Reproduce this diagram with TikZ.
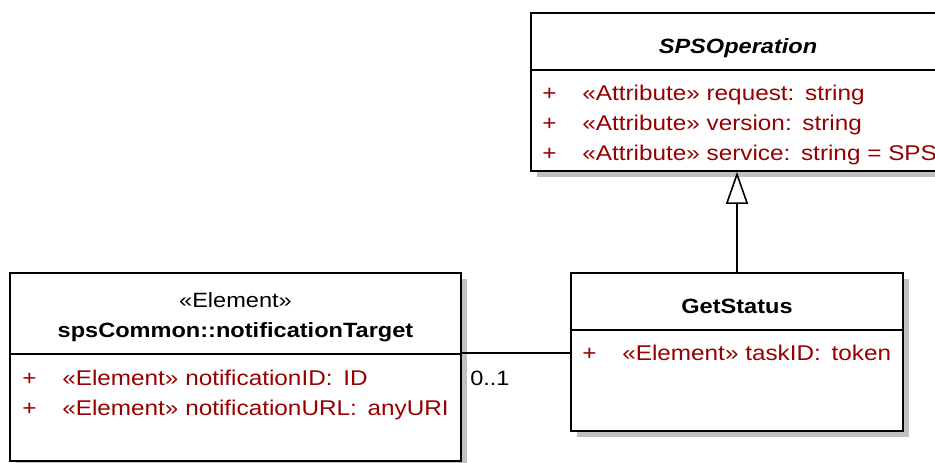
\documentclass[tikz,border=0pt]{standalone}
\usepackage{fontspec}
\setmainfont[FakeStretch=1.14]{Liberation Sans}
\usetikzlibrary{arrows.meta,shadows}
\definecolor{attrred}{RGB}{150,0,0}
\definecolor{shadowgray}{RGB}{192,192,192}
\newcommand{\colsep}{\hspace{8pt}}
\tikzset{
  classbox/.style={draw=black, fill=white, line width=1.3pt, inner sep=0pt,
    drop shadow={shadow xshift=4.5pt, shadow yshift=-4.5pt, fill=shadowgray, opacity=1}},
  attr/.style={anchor=base west, inner sep=0pt, text=attrred, font=\fontsize{16}{18}\selectfont},
  title/.style={anchor=base, inner sep=0pt},
}
\begin{document}
\begin{tikzpicture}[x=0.75pt, y=-0.75pt, font=\fontsize{15.5}{18}\selectfont]
\useasboundingbox (0,0) rectangle (935,462);
\clip (0,0) rectangle (935,462);
% class boxes
\node[classbox, minimum width=310.5pt, minimum height=118.5pt] (op) at (738,92) {};
\node[classbox, minimum width=249pt, minimum height=118.5pt] (gs) at (737,352) {};
\node[classbox, minimum width=338.25pt, minimum height=141pt] (nt) at (235.5,367) {};
% compartment lines
\draw[line width=1.3pt] ([yshift=-43.5pt]op.north west) -- ([yshift=-43.5pt]op.north east);
\draw[line width=1.3pt] ([yshift=-43.5pt]gs.north west) -- ([yshift=-43.5pt]gs.north east);
\draw[line width=1.3pt] ([yshift=-61.5pt]nt.north west) -- ([yshift=-61.5pt]nt.north east);
% SPSOperation
\node[title] (optitle) at (738,53) {\bfseries\itshape SPSOperation};
\node[attr] (opp1) at (542,100) {+};
\node[attr] (opa1) at (582,100) {«Attribute» request:\colsep string};
\node[attr] (opp2) at (542,130) {+};
\node[attr] (opa2) at (582,130) {«Attribute» version:\colsep string};
\node[attr] (opp3) at (542,160) {+};
\node[attr] (opa3) at (582,160) {«Attribute» service:\colsep string = SPS};
% GetStatus
\node[title] (gstitle) at (737,313) {\bfseries GetStatus};
\node[attr] (gsp1) at (582,360) {+};
\node[attr] (gsa1) at (622,360) {«Element» taskID:\colsep token};
% notificationTarget
\node[title] (ntstereo) at (235.5,307) {«Element»};
\node[title] (nttitle) at (235.5,337) {\bfseries spsCommon::notificationTarget};
\node[attr] (ntp1) at (22,385) {+};
\node[attr] (nta1) at (62,385) {«Element» notificationID:\colsep ID};
\node[attr] (ntp2) at (22,415) {+};
\node[attr] (nta2) at (62,415) {«Element» notificationURL:\colsep anyURI};
% connectors
\draw[line width=1.2pt] (nt.east |- 0,353) -- (gs.west |- 0,353);
\node[anchor=base west, inner sep=0pt] (mult) at (470,385) {0..1};
\draw[line width=1.2pt, -{Triangle[open, length=24pt, width=16.5pt, fill=white]}] (gs.north) -- (gs.north |- op.south);
\end{tikzpicture}
\end{document}
